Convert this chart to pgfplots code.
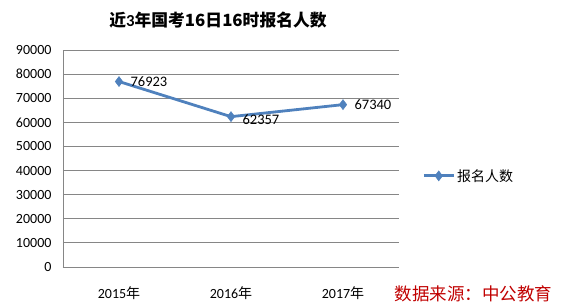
\documentclass[border=0pt]{standalone}
\usepackage{fontspec}
\setmainfont{Carlito}
\newfontfamily\cjk{Noto Sans CJK SC}
\usepackage{pgfplots}
\pgfplotsset{compat=1.18}
\definecolor{exblue}{RGB}{79,129,189}
\definecolor{gridgray}{RGB}{134,134,134}
\definecolor{srcred}{RGB}{192,0,0}
\newcommand{\lowlabel}[1]{\raisebox{-8pt}[0pt][0pt]{#1}}
\begin{document}
\begin{tikzpicture}[x=1pt,y=1pt]
\path (0,0) rectangle (563,304);
\begin{axis}[
  at={(63pt,37pt)}, anchor=south west,
  scale only axis, width=336pt, height=217pt,
  xmin=-0.5, xmax=2.5, ymin=0, ymax=90000,
  xtick={0,1,2}, xticklabels={2015{\cjk 年},2016{\cjk 年},2017{\cjk 年}},
  ytick={0,10000,...,90000},
  scaled y ticks=false,
  /pgf/number format/assume math mode=true,
  yticklabel={\pgfmathprintnumber[fixed,1000 sep={}]{\tick}},
  ymajorgrids, grid style={gridgray, line width=0.8pt},
  axis line style={gridgray, line width=0.8pt},
  axis x line*=bottom, axis y line*=left,
  major tick length=0pt,
  tick label style={font=\fontsize{14}{16}\selectfont, text=black},
  xticklabel style={anchor=base, yshift=-31pt},
  yticklabel style={xshift=-8pt},
  legend style={at={(1.06,0.42)}, anchor=west, draw=none, fill=none, font=\fontsize{14}{16}\selectfont\cjk},
  legend cell align=left,
  legend image code/.code={\draw[mark repeat=2,mark phase=2,#1] plot coordinates {(0pt,0pt) (15pt,0pt) (30pt,0pt)};},
  clip=false,
]
\addplot[exblue, line width=2.8pt, mark=diamond*, mark size=5pt, mark options={fill=exblue, line width=0.5pt},
  nodes near coords, point meta=explicit symbolic,
  every node near coord/.append style={font=\fontsize{14.5}{16}\selectfont, text=black, anchor=west, xshift=8pt}]
  coordinates {(0,76923)[76923] (1,62357)[\lowlabel{62357}] (2,67340)[67340]};
\addlegendentry{报名人数}
\end{axis}
\node[font=\fontsize{16.8}{19}\selectfont\cjk\bfseries] at (218,284) {近{\setmainfont{Carlito}\bfseries 3}年国考16日16时报名人数};
\node[font=\fontsize{17.5}{20}\selectfont\cjk, text=srcred, anchor=east] at (556,10) {数据来源：中公教育};
\end{tikzpicture}
\end{document}
